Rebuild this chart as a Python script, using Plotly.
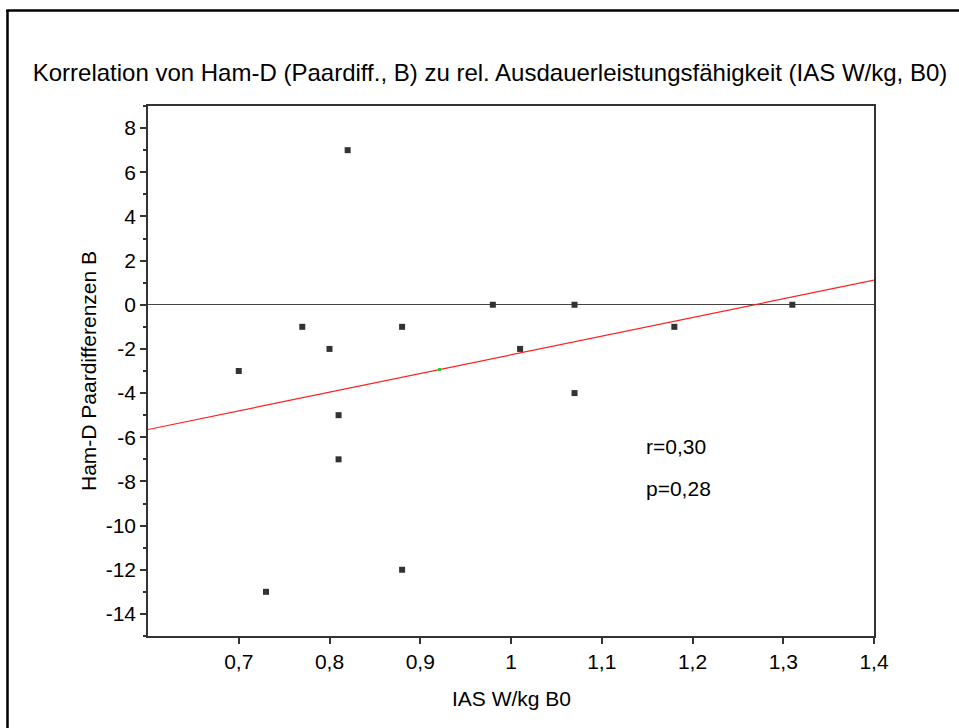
import numpy as np
import plotly.graph_objects as go

# IAS W/kg at B0 and Ham-D pair differences (B)
ias_wkg = [0.70, 0.73, 0.77, 0.80, 0.81, 0.81, 0.82, 0.88, 0.88, 0.98, 1.01, 1.07, 1.07, 1.18, 1.31]
hamd_diff = [-3, -13, -1, -2, -5, -7, 7, -1, -12, 0, -2, 0, -4, -1, 0]

x_tickvals = [0.7, 0.8, 0.9, 1.0, 1.1, 1.2, 1.3, 1.4]
x_ticktext = ["0,7", "0,8", "0,9", "1", "1,1", "1,2", "1,3", "1,4"]
y_tickvals = [8, 6, 4, 2, 0, -2, -4, -6, -8, -10, -12, -14]
y_ticktext = [str(v) for v in y_tickvals]

stats_text = ["r=0,30", "p=0,28"]

X_RANGE = [0.6, 1.4]
Y_RANGE = [-15, 9]

W, H = 959, 728
ML, MR, MT, MB = 148, 85, 106, 92
PW, PH = W - ML - MR, H - MT - MB

FONT = "Liberation Sans, Arial, sans-serif"


def px_to_paper_x(px):
    return (px - ML) / PW


def px_to_paper_y(py):
    return (H - MB - py) / PH


x = np.array(ias_wkg)
y = np.array(hamd_diff)
slope, intercept = np.polyfit(x, y, 1)
fit_x = np.array(X_RANGE)
fit_y = slope * fit_x + intercept

fig = go.Figure()

fig.add_trace(go.Scatter(
    x=fit_x, y=fit_y, mode="lines",
    line=dict(color="#ff2020", width=1.2),
    hoverinfo="skip", showlegend=False,
))

fig.add_trace(go.Scatter(
    x=x, y=y, mode="markers",
    marker=dict(symbol="square", size=6, color="#333333", line=dict(width=0)),
    showlegend=False,
))

# centroid of the sample
fig.add_trace(go.Scatter(
    x=[x.mean()], y=[y.mean()], mode="markers",
    marker=dict(symbol="square", size=3, color="#22cc22", line=dict(width=0)),
    showlegend=False,
))

for txt, yv in zip(stats_text, [-6.4, -8.3]):
    fig.add_annotation(
        x=1.147, y=yv, text=txt, showarrow=False,
        xanchor="left", yanchor="middle",
        font=dict(family=FONT, size=21, color="#000000"),
    )

# axis titles
fig.add_annotation(
    xref="paper", yref="paper", x=0.5, y=px_to_paper_y(698),
    text="IAS W/kg B0", showarrow=False, xanchor="center", yanchor="middle",
    font=dict(family=FONT, size=21, color="#000000"),
)
fig.add_annotation(
    xref="paper", yref="paper", x=px_to_paper_x(88), y=0.5,
    text="Ham-D Paardifferenzen B", showarrow=False, textangle=-90,
    xanchor="center", yanchor="middle",
    font=dict(family=FONT, size=21, color="#000000"),
)

# outer frame: left and top edges
fig.add_shape(
    type="line", xref="paper", yref="paper",
    x0=px_to_paper_x(7.5), x1=px_to_paper_x(7.5),
    y0=px_to_paper_y(H + 5), y1=px_to_paper_y(10),
    line=dict(color="#000000", width=2.5), layer="above",
)
fig.add_shape(
    type="line", xref="paper", yref="paper",
    x0=px_to_paper_x(6.25), x1=px_to_paper_x(W + 5),
    y0=px_to_paper_y(10.5), y1=px_to_paper_y(10.5),
    line=dict(color="#000000", width=2.5), layer="above",
)

fig.update_layout(
    width=W, height=H,
    margin=dict(l=ML, r=MR, t=MT, b=MB, pad=0),
    paper_bgcolor="white", plot_bgcolor="white",
    font=dict(family=FONT, color="#000000"),
    title=dict(
        text="Korrelation von Ham-D (Paardiff., B) zu rel. Ausdauerleistungsfähigkeit (IAS W/kg, B0)",
        x=490 / W, xanchor="center", y=1 - 73 / H, yanchor="middle",
        font=dict(family=FONT, size=24, color="#000000"),
    ),
    xaxis=dict(
        range=X_RANGE, tickvals=x_tickvals, ticktext=x_ticktext,
        showgrid=False, zeroline=False,
        showline=True, linecolor="#333333", linewidth=1.5, mirror=True,
        ticks="outside", ticklen=6, tickcolor="#333333", tickwidth=1.5,
        tickfont=dict(family=FONT, size=21, color="#000000"),
    ),
    yaxis=dict(
        range=Y_RANGE, tickvals=y_tickvals, ticktext=y_ticktext,
        showgrid=False,
        zeroline=True, zerolinecolor="#444444", zerolinewidth=1.2,
        showline=True, linecolor="#333333", linewidth=1.5, mirror=True,
        ticks="outside", ticklen=6, tickcolor="#333333", tickwidth=1.5,
        tickfont=dict(family=FONT, size=21, color="#000000"),
        minor=dict(tickvals=list(range(-15, 10, 2)), ticks="outside", ticklen=3,
                   tickcolor="#333333", tickwidth=1.5),
    ),
)

fig.write_html("out.html")
